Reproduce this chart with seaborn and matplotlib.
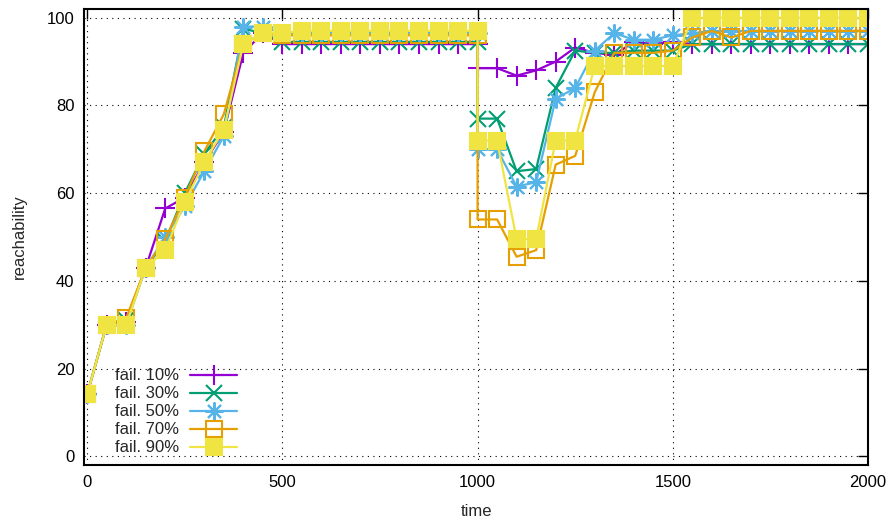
import matplotlib
matplotlib.use("Agg")
import matplotlib.pyplot as plt
import seaborn as sns

# time axis (the step at t=1000 is recorded twice: before and after the failure)
times = [0, 50, 100, 150, 200, 250, 300, 350, 400, 450, 500,
         550, 600, 650, 700, 750, 800, 850, 900, 950, 1000,
         1000, 1050, 1100, 1150, 1200, 1250, 1300, 1350, 1400, 1450, 1500,
         1550, 1600, 1650, 1700, 1750, 1800, 1850, 1900, 1950, 2000]

fail10 = [14.1, 30, 30.5, 43, 56.5, 59, 67, 74, 92, 96.5,
          94, 94, 94, 94, 94, 94, 94, 94, 94, 94, 94,
          88.5, 88.5, 86.8, 88, 90, 93.2, 92, 91.5, 94.5, 94, 94.5,
          94, 94, 94, 94, 94, 94, 94, 94, 94, 94]
fail30 = [14.1, 30, 31, 43, 49, 60, 69, 75, 97.5, 96.5,
          94.5, 94.5, 94.5, 94.5, 94.5, 94.5, 94.5, 94.5, 94.5, 94.5, 94.5,
          77, 77, 65, 65.5, 84, 92.5, 92, 92, 92.5, 92.5, 92.5,
          94, 94, 94, 94, 94, 94, 94, 94, 94, 94]
fail50 = [14.1, 30, 30, 43, 50, 57, 65, 73, 98, 98,
          96.5, 96.5, 96.5, 96.5, 96.5, 96.5, 96.5, 96.5, 96.5, 96.5, 96.5,
          70, 70, 61.5, 62.5, 81.5, 84, 92.5, 96.5, 95, 95, 96,
          96.5, 97, 97, 97, 97, 97, 97, 97, 97, 97]
fail70 = [14.1, 30, 31.5, 43, 49.5, 59, 69.5, 78, 94, 96.5,
          96, 96, 96, 96, 96, 96, 96, 96, 96, 96, 96,
          54, 54, 45.5, 47, 66.5, 68.5, 83, 92, 92, 92, 92.5,
          95.5, 97, 95.5, 97, 97, 97, 97, 97, 97, 97]
fail90 = [14.1, 30, 30, 43, 47, 58, 67, 74.5, 94, 96.5,
          96.5, 97, 97, 97, 97, 97, 97, 97, 97, 97, 97,
          72, 72, 49.5, 49.5, 72, 72, 89, 89, 89, 89, 89,
          100, 100, 100, 100, 100, 100, 100, 100, 100, 100]

labels = ["fail. 10%", "fail. 30%", "fail. 50%", "fail. 70%", "fail. 90%"]
series = [fail10, fail30, fail50, fail70, fail90]

sns.set_style("white")
plt.rcParams["font.family"] = ["Liberation Sans", "DejaVu Sans"]

colors = ["#9400d3", "#009e73", "#56b4e9", "#e69f00", "#f0e442"]
markers = ["+", "x", (8, 2, 0), "s", "s"]
msizes = [14, 11, 13, 11, 12]
faces = [None, None, None, "none", "#f0e442"]

fig = plt.figure(figsize=(8.9, 5.23), dpi=100)
ax = fig.add_axes([0.0944, 0.1109, 0.8809, 0.8719])

for vals, lab, c, m, ms, fc in zip(series, labels, colors, markers, msizes, faces):
    kw = dict(marker=m, markersize=ms, markeredgewidth=1.5, markeredgecolor=c)
    if fc is not None:
        kw["markerfacecolor"] = fc
    sns.lineplot(x=times, y=vals, ax=ax, estimator=None, sort=False,
                 color=c, linewidth=1.6, label=lab, **kw)

ax.set_xlim(-8, 2000)
ax.set_ylim(-2, 102)
ax.set_xticks([0, 500, 1000, 1500, 2000])
ax.set_yticks([0, 20, 40, 60, 80, 100])
ax.grid(True, color="black", linestyle=(0, (1, 4)), linewidth=0.8)
ax.tick_params(direction="in", length=7, width=1, top=True, right=True,
               labelsize=12, colors="black", pad=7)
for s in ax.spines.values():
    s.set_color("black")
    s.set_linewidth(1.5)

ax.set_xlabel("time", fontsize=12, labelpad=10)
ax.set_ylabel("reachability", fontsize=12, labelpad=14)

ax.legend(loc="lower left", bbox_to_anchor=(0.02, -0.012), frameon=False,
          markerfirst=False, fontsize=12, handlelength=2.8,
          handletextpad=0.7, labelspacing=0.18)

fig.savefig("out.png", dpi=100)
